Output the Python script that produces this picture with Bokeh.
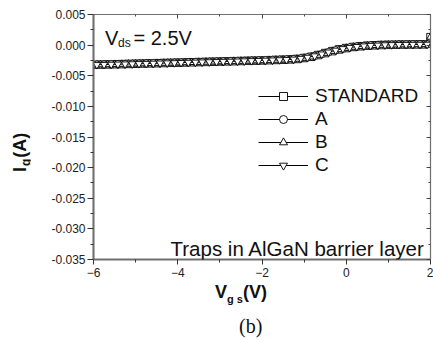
from bokeh.plotting import figure
from bokeh.models import (Range1d, LinearAxis, FixedTicker, PrintfTickFormatter,
                          Label, Legend, LegendItem, Div)
from bokeh.layouts import row, column
from bokeh.embed import file_html
from bokeh.resources import INLINE

# ---------------- data ----------------
# grid of the STANDARD / B curves
vgs = [-6.00, -5.83, -5.67, -5.50, -5.33, -5.17, -5.00, -4.83, -4.67, -4.50,
       -4.33, -4.17, -4.00, -3.83, -3.67, -3.50, -3.33, -3.17, -3.00, -2.83,
       -2.67, -2.50, -2.33, -2.17, -2.00, -1.83, -1.67, -1.50, -1.33, -1.17,
       -1.00, -0.83, -0.67, -0.50, -0.33, -0.17, 0.00, 0.17, 0.33, 0.50,
       0.67, 0.83, 1.00, 1.17, 1.33, 1.50, 1.67, 1.83, 2.00]
# grid of the A / C curves
vgs_half = [-5.92, -5.75, -5.58, -5.42, -5.25, -5.08, -4.92, -4.75, -4.58, -4.42,
            -4.25, -4.08, -3.92, -3.75, -3.58, -3.42, -3.25, -3.08, -2.92, -2.75,
            -2.58, -2.42, -2.25, -2.08, -1.92, -1.75, -1.58, -1.42, -1.25, -1.08,
            -0.92, -0.75, -0.58, -0.42, -0.25, -0.08, 0.08, 0.25, 0.42, 0.58,
            0.75, 0.92, 1.08, 1.25, 1.42, 1.58, 1.75, 1.92]

ig_standard = [-0.00320, -0.00318, -0.00315, -0.00312, -0.00310, -0.00307, -0.00304, -0.00301, -0.00298, -0.00295,
               -0.00292, -0.00289, -0.00286, -0.00283, -0.00280, -0.00277, -0.00274, -0.00271, -0.00268, -0.00265,
               -0.00262, -0.00259, -0.00256, -0.00253, -0.00250, -0.00246, -0.00242, -0.00238, -0.00233, -0.00226,
               -0.00210, -0.00190, -0.00162, -0.00130, -0.00098, -0.00070, -0.00048, -0.00030, -0.00018, -0.00009,
               -0.00003, 0.00002, 0.00005, 0.00007, 0.00009, 0.00010, 0.00011, 0.00012, 0.00130]
ig_b = [-0.00321, -0.00318, -0.00316, -0.00313, -0.00310, -0.00307, -0.00304, -0.00302, -0.00299, -0.00296,
        -0.00293, -0.00290, -0.00287, -0.00284, -0.00281, -0.00278, -0.00275, -0.00272, -0.00269, -0.00266,
        -0.00263, -0.00260, -0.00257, -0.00254, -0.00251, -0.00247, -0.00243, -0.00239, -0.00234, -0.00227,
        -0.00211, -0.00191, -0.00163, -0.00131, -0.00099, -0.00071, -0.00049, -0.00031, -0.00019, -0.00010,
        -0.00004, 0.00001, 0.00004, 0.00006, 0.00008, 0.00009, 0.00010, 0.00011, 0.00132]
ig_a = [-0.00319, -0.00317, -0.00314, -0.00311, -0.00309, -0.00306, -0.00303, -0.00300, -0.00297, -0.00294,
        -0.00291, -0.00288, -0.00285, -0.00282, -0.00279, -0.00276, -0.00273, -0.00270, -0.00267, -0.00264,
        -0.00261, -0.00258, -0.00255, -0.00252, -0.00248, -0.00244, -0.00240, -0.00236, -0.00230, -0.00218,
        -0.00200, -0.00176, -0.00146, -0.00114, -0.00084, -0.00059, -0.00039, -0.00024, -0.00014, -0.00006,
        -0.00001, 0.00004, 0.00006, 0.00008, 0.00010, 0.00011, 0.00012, 0.00013]
ig_c = [-0.00320, -0.00318, -0.00315, -0.00312, -0.00310, -0.00307, -0.00304, -0.00301, -0.00298, -0.00295,
        -0.00292, -0.00289, -0.00286, -0.00283, -0.00280, -0.00277, -0.00274, -0.00271, -0.00268, -0.00265,
        -0.00262, -0.00259, -0.00256, -0.00253, -0.00249, -0.00245, -0.00241, -0.00237, -0.00231, -0.00219,
        -0.00201, -0.00177, -0.00147, -0.00115, -0.00085, -0.00060, -0.00040, -0.00025, -0.00015, -0.00007,
        -0.00002, 0.00003, 0.00005, 0.00007, 0.00009, 0.00010, 0.00011, 0.00012]

series_names = ["STANDARD", "A", "B", "C"]
series_markers = ["square", "circle", "triangle", "inverted_triangle"]
series_x = [vgs, vgs_half, vgs, vgs_half]
series_y = [ig_standard, ig_a, ig_b, ig_c]

x_ticks = [-6, -4, -2, 0, 2]
x_minor_ticks = [-5, -3, -1, 1]
y_ticks = [-0.035, -0.030, -0.025, -0.020, -0.015, -0.010, -0.005, 0.000, 0.005]
y_minor_ticks = [-0.0325, -0.0275, -0.0225, -0.0175, -0.0125, -0.0075, -0.0025, 0.0025]

# ---------------- figure ----------------
FONT = "Liberation Sans"
p = figure(width=403, height=280, output_backend="svg", toolbar_location=None,
           x_range=Range1d(-6, 2), y_range=Range1d(-0.035, 0.005),
           min_border_left=63, min_border_right=3, min_border_top=14, min_border_bottom=21,
           x_axis_location=None, y_axis_location=None, margin=(0, 0, 0, 0))
p.grid.visible = False
p.background_fill_color = "white"
p.border_fill_color = "white"
p.outline_line_color = "#5a5a5a"
p.outline_line_width = 1.2

# bottom axis
xb = LinearAxis(ticker=FixedTicker(ticks=x_ticks, minor_ticks=x_minor_ticks))
xb.axis_line_color = "#707070"
xb.axis_line_width = 2
xb.major_tick_out = 5
xb.major_tick_in = 0
xb.minor_tick_out = 3
xb.minor_tick_in = 0
xb.major_tick_line_color = "#333333"
xb.minor_tick_line_color = "#333333"
xb.major_label_text_font = FONT
xb.major_label_text_font_size = "12px"
xb.major_label_text_color = "#222222"
xb.major_label_standoff = 3
p.add_layout(xb, "below")

# left axis
yl = LinearAxis(ticker=FixedTicker(ticks=y_ticks, minor_ticks=y_minor_ticks),
                formatter=PrintfTickFormatter(format="%.3f"))
yl.axis_line_color = "#707070"
yl.axis_line_width = 2
yl.major_tick_out = 6
yl.major_tick_in = 0
yl.minor_tick_out = 3
yl.minor_tick_in = 0
yl.major_tick_line_color = "#333333"
yl.minor_tick_line_color = "#333333"
yl.major_label_text_font = FONT
yl.major_label_text_font_size = "12px"
yl.major_label_text_color = "#222222"
yl.major_label_standoff = 2
p.add_layout(yl, "left")

# mirrored top / right axes (ticks inward, no labels)
xt = LinearAxis(ticker=FixedTicker(ticks=x_ticks, minor_ticks=x_minor_ticks))
yr = LinearAxis(ticker=FixedTicker(ticks=y_ticks, minor_ticks=y_minor_ticks))
for ax in (xt, yr):
    ax.axis_line_color = "#707070"
    ax.axis_line_width = 1
    ax.major_tick_in = 4
    ax.major_tick_out = 0
    ax.minor_tick_in = 2
    ax.minor_tick_out = 0
    ax.major_tick_line_color = "#444444"
    ax.minor_tick_line_color = "#444444"
    ax.major_label_text_color = None
    ax.major_label_text_font_size = "1px"
    ax.major_label_standoff = 0
p.add_layout(xt, "above")
p.add_layout(yr, "right")

# ---------------- series ----------------
items = []
for name, marker, xs, ys in zip(series_names, series_markers, series_x, series_y):
    ln = p.line(xs, ys, line_color="black", line_width=1)
    sc = p.scatter(xs, ys, marker=marker, size=7.5, fill_color="white",
                   line_color="black", line_width=0.9)
    items.append(LegendItem(label=name, renderers=[ln, sc]))

legend = Legend(items=items, location=(165, 83))
legend.background_fill_alpha = 0
legend.border_line_color = None
legend.padding = 0
legend.margin = 0
legend.spacing = 1
legend.glyph_width = 50
legend.glyph_height = 20
legend.label_height = 20
legend.label_standoff = 7
legend.label_text_font = FONT
legend.label_text_font_size = "19px"
legend.label_text_color = "#111111"
p.add_layout(legend)

# ---------------- texts inside the frame ----------------
def add_text(text, xo, yo, size, bold=False, font=FONT):
    p.add_layout(Label(x=-6, y=-0.035, x_offset=xo, y_offset=yo, text=text,
                       text_font=font, text_font_size=f"{size}px",
                       text_font_style="bold" if bold else "normal",
                       text_color="#111111", text_align="left",
                       text_baseline="alphabetic"))

add_text("V", 11.5, 222, 20)
add_text("ds", 24.5, 217, 12)
add_text("= 2.5V", 40, 222, 20)
add_text("Traps in AlGaN barrier layer", 77, 11, 20.5)

# ---------------- axis titles and caption (HTML) ----------------
ytitle = Div(width=30, height=280, margin=(0, 0, 0, 0), text=(
    '<div style="position:absolute; left:11px; top:172px; transform:rotate(-90deg);'
    ' transform-origin:0 0; white-space:nowrap; font-family:\'Liberation Sans\';'
    ' font-weight:bold; font-size:18px; line-height:18px; color:#111;">'
    'I<span style="font-size:12px; position:relative; top:4px; padding:0 1px;">g</span>(A)</div>'))

bottom = Div(width=433, height=61, margin=(0, 0, 0, 0), text=(
    '<div style="position:absolute; left:215px; top:3px; white-space:nowrap;'
    ' font-family:\'Liberation Sans\'; font-weight:bold; font-size:18px; line-height:18px; color:#111;">'
    'V<span style="font-size:11px; position:relative; top:5px;">g s</span>(V)</div>'
    '<div style="position:absolute; left:239px; top:36px; white-space:nowrap;'
    ' font-family:\'Liberation Serif\'; font-size:20px; line-height:20px; color:#111;">(b)</div>'))

layout = column(row(ytitle, p, spacing=0, margin=(0, 0, 0, 0)), bottom,
                spacing=0, margin=(0, 0, 0, 0))

open("out.html", "w").write(file_html(layout, INLINE))
